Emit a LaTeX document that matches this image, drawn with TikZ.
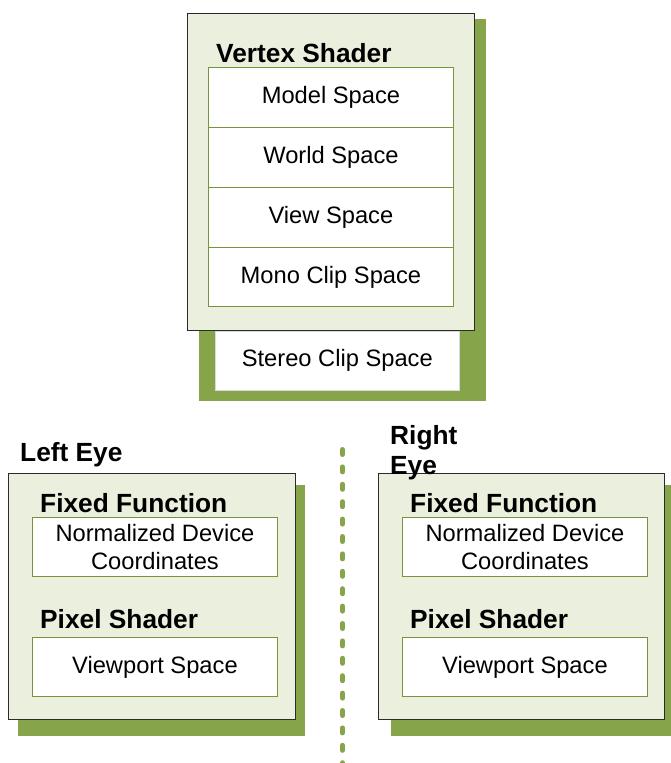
\documentclass[tikz,border=0pt]{standalone}
\usepackage{fontspec}
\setmainfont{Liberation Sans}
\definecolor{shadowgreen}{HTML}{86A44A}
\definecolor{panelfill}{HTML}{EBEFDE}
\definecolor{rowline}{HTML}{77933C}
\definecolor{framegray}{HTML}{2B2B2B}
\begin{document}
\begin{tikzpicture}[x=1pt,y=-1pt,
  shadowbox/.style={fill=shadowgreen, draw=none, anchor=north west, inner sep=0pt},
  panel/.style={fill=panelfill, draw=framegray, line width=1.2pt, anchor=north west, inner sep=0pt},
  row/.style={fill=white, draw=rowline, line width=0.9pt, anchor=north west, minimum width=245pt, minimum height=60pt, inner sep=0pt, font=\fontsize{23.7}{28.5}\selectfont, align=center},
  head/.style={anchor=base west, inner sep=0pt, font=\fontsize{26.3}{30}\selectfont\bfseries},
  sepline/.style={draw=shadowgreen, line width=5pt, line cap=round, dash pattern=on 5pt off 12.4pt}]
\useasboundingbox (0,0) rectangle (671,763);

% ---- Vertex shader block ----
\node[shadowbox, minimum width=287pt, minimum height=382pt] (vsshadow) at (199,19) {};
\node[fill=white, draw=black!15, line width=0.6pt, anchor=north west, inner sep=0pt,
      minimum width=244pt, minimum height=59pt, font=\fontsize{23.7}{28.5}\selectfont] (stereo) at (215,331) {Stereo Clip Space};
\node[panel, minimum width=287pt, minimum height=317pt] (vspanel) at (187,13) {};
\node[head] (vstitle) at (216,62) {Vertex Shader};
\node[row] (model) at (208,67) {Model Space};
\node[row] (world) at (208,127) {World Space};
\node[row] (view) at (208,187) {View Space};
\node[row, minimum height=59pt] (mono) at (208,247) {Mono Clip Space};

% ---- Left eye ----
\node[head] (lefteye) at (20,461) {Left Eye};
\node[shadowbox, minimum width=287pt, minimum height=251pt] (lshadow) at (18,485) {};
\node[panel, minimum width=287pt, minimum height=246pt] (lpanel) at (8,473) {};
\node[head] (lfixed) at (40,512) {Fixed Function};
\node[row, minimum height=59pt] (lndc) at (32,517) {Normalized Device\\Coordinates};
\node[head] (lpixel) at (40,628) {Pixel Shader};
\node[row, minimum height=59pt] (lviewport) at (32,637) {Viewport Space};

% ---- Right eye ----
\node[shadowbox, minimum width=287pt, minimum height=251pt] (rshadow) at (391,485) {};
\node[panel, minimum width=286pt, minimum height=246pt] (rpanel) at (378,473) {};
\node[head, anchor=north west, align=left, font=\fontsize{26.3}{30}\selectfont\bfseries] (righteye) at (390,425) {Right\\Eye};
\node[head] (rfixed) at (410,512) {Fixed Function};
\node[row, minimum height=59pt] (rndc) at (402,517) {Normalized Device\\Coordinates};
\node[head] (rpixel) at (410,628) {Pixel Shader};
\node[row, minimum height=59pt] (rviewport) at (402,637) {Viewport Space};

% ---- separator ----
\coordinate (septop) at (342.5,449.5);
\coordinate (sepbot) at (342.5,768);
\draw[sepline] (septop) -- (sepbot);
\end{tikzpicture}
\end{document}
